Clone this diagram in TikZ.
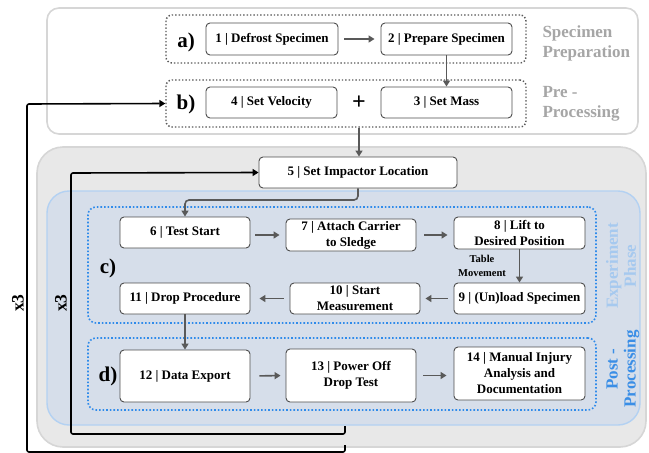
\documentclass[tikz,border=0pt]{standalone}
\usepackage{fontspec}
\setmainfont{Liberation Serif}
\usetikzlibrary{arrows.meta}
\definecolor{boxline}{HTML}{4D4D4D}
\definecolor{arrowgray}{HTML}{595959}
\definecolor{panelline}{HTML}{D6D6D6}
\definecolor{panelfill}{HTML}{E8E8E8}
\definecolor{bluefill}{HTML}{D6DEEA}
\definecolor{blueline}{HTML}{B3D1F2}
\definecolor{dotblue}{HTML}{2F8BEA}
\definecolor{lightblue}{HTML}{A6C9EF}
\definecolor{strongblue}{HTML}{3A8EE6}
\definecolor{labelgray}{HTML}{A6A6A6}
\tikzset{
  stepbox/.style={draw=boxline, line width=0.9pt, fill=white, rounded corners=4pt,
    inner sep=1pt, align=center, font=\fontsize{13}{16}\selectfont\bfseries},
  grpgray/.style={draw=arrowgray, line width=1.4pt, dotted, rounded corners=6pt, inner sep=0pt},
  grpblue/.style={draw=dotblue, line width=1.6pt, dotted, rounded corners=8pt, inner sep=0pt},
  flow/.style={draw=arrowgray, line width=1.6pt, -{Triangle[length=6pt,width=7pt]}},
  loopline/.style={draw=black, line width=1.6pt, rounded corners=2pt, -{Triangle[length=6pt,width=7pt]}},
  letter/.style={font=\fontsize{21}{22}\selectfont\bfseries},
  side/.style={font=\fontsize{17}{20}\selectfont\bfseries, align=left},
  sideR/.style={font=\fontsize{17}{18}\selectfont\bfseries, align=center, rotate=90},
  xlabel/.style={font=\fontsize{17.5}{18}\selectfont\bfseries, rotate=90},
}
\begin{document}
\begin{tikzpicture}[x=1pt,y=-1pt]
\useasboundingbox (0,0) rectangle (649,453);
% panels
\draw[draw=panelline, line width=1.6pt, fill=white, rounded corners=12pt] (47,8) rectangle (638,134);
\draw[draw=panelline, line width=1.6pt, fill=panelfill, rounded corners=26pt] (37,147) rectangle (646,447);
\draw[draw=blueline, line width=1.4pt, fill=bluefill, rounded corners=22pt] (47,191) rectangle (640,425);
% groups
\node[grpgray, minimum width=360pt, minimum height=48pt] (grpA) at (346,39) {};
\node[grpgray, minimum width=360pt, minimum height=47pt] (grpB) at (346,103.5) {};
\node[grpblue, minimum width=508pt, minimum height=116pt] (grpC) at (342,265) {};
\node[grpblue, minimum width=508pt, minimum height=72pt] (grpD) at (342,374) {};
% letters
\node[letter] (la) at (186,42) {a)};
\node[letter] (lb) at (186,104) {b)};
\node[letter] (lc) at (108,268) {c)};
\node[letter] (ld) at (108,376) {d)};
% side labels
\node[side, text=labelgray, anchor=west] (sp) at (539,43) {Specimen\\Preparation};
\node[side, text=labelgray, anchor=west] (pp) at (539,104) {Pre -\\Processing};
\node[sideR, text=lightblue] (ep) at (621,266) {Experiment\\Phase};
\node[sideR, text=strongblue] (po) at (623,369) {Post -\\Processing};
% steps
\node[stepbox, minimum width=132pt, minimum height=32pt] (n1) at (272,39) {1 | Defrost Specimen};
\node[stepbox, minimum width=131pt, minimum height=32pt] (n2) at (446.5,39) {2 | Prepare Specimen};
\node[stepbox, minimum width=131pt, minimum height=31pt] (n4) at (271.5,102.5) {4 | Set Velocity};
\node[stepbox, minimum width=131pt, minimum height=31pt] (n3) at (446.5,102.5) {3 | Set Mass};
\node[font=\fontsize{24}{24}\selectfont\bfseries] (plus) at (359,103) {+};
\node[stepbox, minimum width=198pt, minimum height=31pt] (n5) at (358,172.5) {5 | Set Impactor Location};
\node[stepbox, minimum width=130pt, minimum height=31pt] (n6) at (185,232.5) {6 | Test Start};
\node[stepbox, minimum width=130pt, minimum height=32pt] (n7) at (351,235) {7 | Attach Carrier\\to Sledge};
\node[stepbox, minimum width=131pt, minimum height=32pt] (n8) at (519.5,233) {8 | Lift to\\Desired Position};
\node[stepbox, minimum width=131pt, minimum height=31pt] (n9) at (519.5,298.5) {9 | (Un)load Specimen};
\node[stepbox, minimum width=130pt, minimum height=31pt] (n10) at (355,298.5) {10 | Start\\Measurement};
\node[stepbox, minimum width=130pt, minimum height=31pt] (n11) at (185,298.5) {11 | Drop Procedure};
\node[stepbox, minimum width=130pt, minimum height=52pt] (n12) at (185,376) {12 | Data Export};
\node[stepbox, minimum width=130pt, minimum height=53pt] (n13) at (351,375.5) {13 | Power Off\\Drop Test};
\node[stepbox, minimum width=131pt, minimum height=53pt] (n14) at (519.5,373.5) {14 | Manual Injury\\Analysis and\\Documentation};
\node[font=\fontsize{10.5}{14}\selectfont\bfseries, align=center] (tm) at (482,266) {Table\\Movement};
% flow arrows
\draw[flow, shorten <=6pt, shorten >=6pt] (n1.east) -- (n2.west);
\draw[flow] (n2.south) -- (n3.north);
\draw[flow] (grpB.south -| plus) -- (n5.north -| plus);
\draw[flow, rounded corners=4pt] (n5.south) -- (358,200) -- (185,200) -- (n6.north);
\draw[flow, shorten <=5pt, shorten >=6pt] (n6.east |- n7) -- (n7.west);
\draw[flow, shorten <=8pt, shorten >=6pt] (n7.east) -- (n8.west |- n7);
\draw[flow] (n8.south) -- (n9.north);
\draw[flow, shorten <=6pt, shorten >=5pt] (n9.west) -- (n10.east);
\draw[flow, shorten <=6pt, shorten >=9pt] (n10.west) -- (n11.east);
\draw[flow] (n11.south) -- (n12.north);
\draw[flow, shorten <=9pt, shorten >=5pt] (n12.east) -- (n13.west);
\draw[flow, shorten <=7pt, shorten >=7pt] (n13.east) -- (n14.west |- n13);
% loops
\coordinate (li) at (345,426);
\coordinate (lo) at (345,445);
\draw[loopline] (li) -- (345,434) -- (71,434) -- (71,173) -- (n5.west);
\draw[loopline] (lo) -- (345,452) -- (27,452) -- (27,104) -- (grpB.west);
\node[xlabel] (x3o) at (18,303) {x3};
\node[xlabel] (x3i) at (61,303) {x3};
\end{tikzpicture}
\end{document}
